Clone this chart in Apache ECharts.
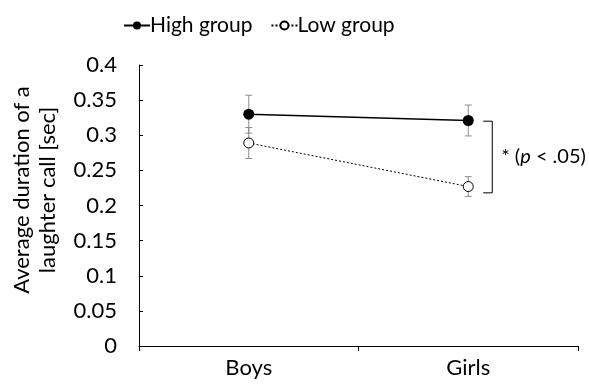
<!DOCTYPE html>
<html><head><meta charset="utf-8">
<script src="https://cdn.jsdelivr.net/npm/echarts@6/dist/echarts.min.js"></script>
<style>html,body{margin:0;padding:0;background:#fff}#c{width:589px;height:385px}</style>
</head><body><div id="c"></div>
<script>
var categories = ['Boys', 'Girls'];
var yTicks = ['0', '0.05', '0.1', '0.15', '0.2', '0.25', '0.3', '0.35', '0.4'];
var highMean = [0.330, 0.321];
var highErr = [0.027, 0.022];
var lowMean = [0.289, 0.227];
var lowErr = [0.022, 0.014];
var bracketRange = [0.320, 0.218];
var bracketCategory = 'Girls';
var yTitle = ['Average duration of a', 'laughter call [sec]'];
var FONT = 'Lato';

var chart = echarts.init(document.getElementById('c'));

function errSeries(means, errs) {
  return {
    type: 'custom',
    silent: true,
    z: 1,
    data: categories.map(function (c, i) { return [i, means[i] - errs[i], means[i] + errs[i]]; }),
    renderItem: function (params, api) {
      var lo = api.coord([api.value(0), api.value(1)]);
      var hi = api.coord([api.value(0), api.value(2)]);
      var hw = 3.5;
      var st = { stroke: '#8c8c8c', lineWidth: 1 };
      return { type: 'group', children: [
        { type: 'line', shape: { x1: lo[0], y1: lo[1], x2: hi[0], y2: hi[1] }, style: st },
        { type: 'line', shape: { x1: lo[0] - hw, y1: lo[1], x2: lo[0] + hw, y2: lo[1] }, style: st },
        { type: 'line', shape: { x1: hi[0] - hw, y1: hi[1], x2: hi[0] + hw, y2: hi[1] }, style: st }
      ]};
    }
  };
}

var option = {
  animation: false,
  textStyle: { fontFamily: FONT, color: '#000' },
  legend: {
    data: ['High group', 'Low group'],
    top: 10, left: 118,
    itemWidth: 26, itemHeight: 10, itemGap: 18,
    textStyle: { fontFamily: FONT, fontSize: 21, color: '#000', padding: [0, 0, 0, -5] }
  },
  grid: { left: 139, right: 11, top: 65, bottom: 39, containLabel: false },
  xAxis: {
    type: 'category', data: categories,
    axisLine: { lineStyle: { color: '#000', width: 1 } },
    axisTick: { show: true, length: 5, lineStyle: { color: '#000' } },
    axisLabel: { fontFamily: FONT, fontSize: 22, color: '#000', margin: 11 }
  },
  yAxis: {
    type: 'value', min: 0, max: 0.4, interval: 0.05,
    axisLine: { show: true, lineStyle: { color: '#000', width: 1 } },
    axisTick: { show: true, inside: true, length: 4, lineStyle: { color: '#000' } },
    splitLine: { show: false },
    axisLabel: { fontFamily: FONT, fontSize: 22, color: '#000', margin: 22,
      formatter: function (v, i) { return yTicks[i]; } }
  },
  series: [
    errSeries(highMean, highErr),
    errSeries(lowMean, lowErr),
    {
      name: 'High group', type: 'line', data: highMean, z: 3,
      symbol: 'circle', symbolSize: 11,
      lineStyle: { color: '#000', width: 1.5 },
      itemStyle: { color: '#000' }
    },
    {
      name: 'Low group', type: 'line', data: lowMean, z: 3,
      symbol: 'circle', symbolSize: 10,
      lineStyle: { color: '#000', width: 1, type: [2, 2] },
      itemStyle: { color: '#fff', borderColor: '#000', borderWidth: 1 }
    }
  ]
};
chart.setOption(option);

var pTop = chart.convertToPixel({ xAxisIndex: 0, yAxisIndex: 0 }, [bracketCategory, bracketRange[0]]);
var pBot = chart.convertToPixel({ xAxisIndex: 0, yAxisIndex: 0 }, [bracketCategory, bracketRange[1]]);
var bx = pTop[0] + 24;
chart.setOption({
  graphic: [
    { type: 'text', x: 35, y: 190, rotation: Math.PI / 2,
      style: { text: yTitle.join('\n'), align: 'center', verticalAlign: 'middle',
        fontFamily: FONT, fontSize: 22, lineHeight: 26, fill: '#000' } },
    { type: 'polyline', shape: { points: [[bx - 9, pTop[1]], [bx, pTop[1]], [bx, pBot[1]], [bx - 9, pBot[1]]] },
      style: { stroke: '#000', lineWidth: 1, fill: null } },
    { type: 'text', x: bx + 9, y: (pTop[1] + pBot[1]) / 2,
      style: { text: '{n|* (}{i|p}{n| < .05)}', verticalAlign: 'middle',
        rich: { n: { fontFamily: FONT, fontSize: 20, fill: '#000' },
                i: { fontFamily: FONT, fontSize: 20, fontStyle: 'italic', fill: '#000' } } } }
  ]
});
</script></body></html>
